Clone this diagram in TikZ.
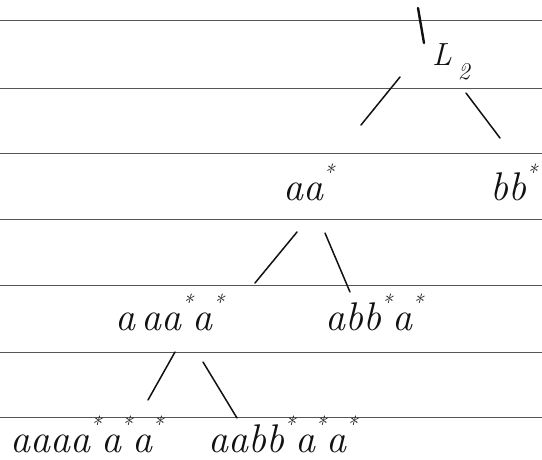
\documentclass[tikz,border=0pt]{standalone}
\usepackage{tikz}
\usetikzlibrary{positioning}
\definecolor{ink}{HTML}{111111}
\definecolor{rule}{HTML}{555555}
\newcommand{\kst}{\raisebox{0.5em}{\fontsize{22}{22}\selectfont *}}
\newcommand{\lsub}[1]{\kern6pt\raisebox{-0.45em}{\fontsize{24}{24}\selectfont #1}}

\begin{document}
\begin{tikzpicture}[x=1pt,y=-1pt,
    word/.style={anchor=base west,inner sep=0pt,text=ink,font=\fontsize{40}{44}\selectfont\itshape},
    branch/.style={ink,line width=1.5pt,line cap=round}]
  \useasboundingbox (0,0) rectangle (542,459);
  % Ruled paper
  \foreach \y in {20,88,153,219,285,352,417} {
    \draw[rule,line width=0.7pt] (0,\y) -- (542,\y);
  }

  % Root
  \node[word,font=\fontsize{32}{36}\selectfont\itshape] (root) at (432,65) {L\lsub{2}};
  \coordinate (top) at (418,8);
  \draw[branch,line width=2.4pt] (top) -- ([shift={(-8,-22)}]root.base west);

  % Level 1
  \node[word] (aa) at (283,200) {aa\kst};
  \node[word] (bb) at (490,200) {bb\kst};
  \draw[branch] ([shift={(-32,12)}]root.base west) -- ([shift={(78,-75)}]aa.base west);
  \draw[branch] ([shift={(34,28)}]root.base west) -- ([shift={(10,-62)}]bb.base west);

  % Level 2
  \node[word] (aaaa) at (115,330) {a\,aa\kst a\kst};
  \node[word] (abba) at (325,330) {abb\kst a\kst};
  \draw[branch] ([shift={(14,32)}]aa.base west) -- ([shift={(140,-47)}]aaaa.base west);
  \draw[branch] ([shift={(42,33)}]aa.base west) -- ([shift={(25,-38)}]abba.base west);

  % Level 3
  \node[word] (six) at (10,452) {aaaa\kst a\kst a\kst};
  \node[word] (aabbaa) at (208,452) {aabb\kst a\kst a\kst};
  \draw[branch] ([shift={(60,22)}]aaaa.base west) -- ([shift={(138,-52)}]six.base west);
  \draw[branch] ([shift={(88,32)}]aaaa.base west) -- ([shift={(29,-34)}]aabbaa.base west);
\end{tikzpicture}
\end{document}
